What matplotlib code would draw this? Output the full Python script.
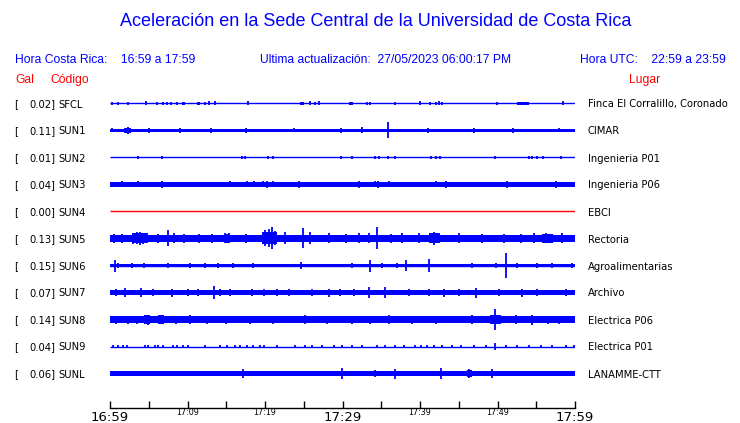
import matplotlib.pyplot as plt
import matplotlib.transforms as mtransforms

# stations, top to bottom
stations = ['SFCL', 'SUN1', 'SUN2', 'SUN3', 'SUN4', 'SUN5', 'SUN6', 'SUN7', 'SUN8', 'SUN9', 'SUNL']
gal = [0.02, 0.11, 0.01, 0.04, 0.00, 0.13, 0.15, 0.07, 0.14, 0.04, 0.06]
places = ['Finca El Corralillo, Coronado', 'CIMAR', 'Ingenieria P01', 'Ingenieria P06', 'EBCI',
          'Rectoria', 'Agroalimentarias', 'Archivo', 'Electrica P06', 'Electrica P01', 'LANAMME-CTT']
trace_colors = ['blue'] * 4 + ['red'] + ['blue'] * 6

# background noise level of each trace (same units as spikes)
noise = [0.5, 1.7, 0.5, 2.1, 0.5, 3.8, 1.9, 2.5, 3.2, 0.5, 2.0]

# (minute, half amplitude) of the visible bursts, minutes after 16:59
spikes_sfcl = [(0.30, 1.5), (1.08, 1.5), (2.28, 1.5), (4.60, 2), (6.02, 1.5), (6.88, 1.5), (7.31, 1.5),
               (7.83, 1.5), (8.60, 1.5), (12.26, 1.5), (12.77, 2), (13.55, 2), (17.85, 2), (25.76, 2),
               (26.41, 1.5), (27.01, 2), (33.16, 1.5), (33.59, 1.5), (36.81, 1.5), (40.04, 2),
               (41.25, 1.5), (42.02, 1.5), (42.45, 2), (42.88, 1.5), (49.98, 1.5), (58.45, 2)]
spikes_sun1 = [(0.22, 2), (1.29, 1.8), (1.94, 2.5), (2.28, 3.3), (2.58, 2.5), (5.0, 2.2), (9.0, 2.2),
               (13.0, 2.2), (17.5, 2.2), (23.70, 2), (29.81, 2.5), (32.52, 3), (35.87, 8),
               (41.0, 2.2), (47.0, 2.2), (52.0, 2.2), (57.93, 2)]
spikes_sun2 = [(3.66, 1.5), (6.67, 1.5), (16.99, 1.5), (17.42, 1.5), (20.34, 1.5), (20.99, 1.5),
               (29.81, 1.5), (31.23, 1.5), (34.24, 1.5), (34.67, 1.5), (35.87, 1.5), (36.82, 1.5),
               (41.38, 1.5), (42.02, 1.5), (42.54, 1.5), (49.63, 1.5), (54.06, 1.5), (54.41, 1.5),
               (55.14, 1.5), (55.91, 1.5), (58.15, 1.5)]
spikes_sun3 = [(1.51, 3), (3.66, 3), (6.75, 3.3), (15.48, 3), (17.63, 3), (18.62, 3), (19.78, 3),
               (20.26, 3.3), (20.99, 3), (24.34, 3.5), (32.09, 3.3), (34.24, 3), (34.54, 3.3),
               (35.96, 3), (42.02, 3), (43.31, 3.3), (51.27, 3.3), (57.59, 3.3)]
spikes_sun4 = []
spikes_sun5 = [(0.5, 4.5), (1.6, 4.5), (3.01, 5.5), (3.44, 6), (3.87, 6.5), (4.30, 5.5), (4.73, 5),
               (6.2, 4.5), (7.53, 8), (8.2, 5), (9.5, 4.5), (11.5, 4.5), (13.2, 4.5), (14.84, 5),
               (15.35, 5), (17.5, 4.5), (20.04, 8), (20.47, 9), (20.90, 11), (21.33, 7), (22.62, 6),
               (24.86, 10), (25.85, 6), (28.22, 5), (30.5, 4.5), (32.09, 5), (33.38, 5),
               (34.45, 11), (36.2, 4.5), (37.68, 5), (39.83, 5), (41.81, 6.3), (42.5, 5),
               (45.03, 5), (48.04, 4.5), (50.84, 4.5), (53.0, 4.5), (54.71, 5), (56.22, 5),
               (57.0, 4.5), (58.36, 5)]
spikes_sun6 = [(0.65, 6), (0.99, 3), (2.80, 2.5), (4.43, 2.5), (7.44, 3), (10.32, 2.5), (12.26, 2.5),
               (13.98, 2.5), (15.91, 2.5), (18.49, 3), (24.69, 3.3), (31.23, 2.5), (33.59, 6),
               (35.10, 2.5), (37.03, 2.5), (38.19, 5.7), (41.16, 6.7), (46.75, 2.5), (49.76, 3),
               (51.05, 12.3), (52.56, 3), (55.14, 2.5), (57.07, 3), (59.65, 2)]
spikes_sun7 = [(0.8, 3.5), (1.94, 4.3), (4.0, 4.3), (5.5, 3.5), (7.96, 4), (10.11, 3.5), (11.40, 3.5),
               (13.46, 6.3), (14.19, 3.5), (15.48, 3.5), (18.28, 3.5), (19.83, 3.5), (21.5, 3.5),
               (23.05, 3.5), (26.06, 3.5), (28.22, 4), (29.72, 3.5), (31.5, 3.5), (33.38, 5.3),
               (35.44, 5.8), (38.54, 3.5), (41.16, 3.5), (43.10, 4), (45.03, 3.5), (47.18, 5),
               (50.19, 3.5), (53.20, 4), (55.14, 3.5), (58.79, 3.5)]
spikes_sun8 = [(0.8, 4), (2.37, 4), (3.5, 4), (4.86, 5), (6.67, 4.5), (8.5, 4), (10.32, 4.5),
               (12.5, 4), (15.0, 4), (18.0, 4), (21.0, 4), (25.20, 4.5), (28.0, 4),
               (31.23, 4), (33.5, 4), (35.96, 4.5), (39.0, 4), (42.0, 4), (46.75, 4.5),
               (49.63, 10.7), (52.34, 4.5), (54.49, 5), (56.5, 4), (57.93, 4)]
spikes_sun9 = [(0.43, 1.5), (1.08, 1.5), (1.72, 1.5), (2.15, 1.5), (4.52, 1.5), (4.95, 1.5), (5.81, 1.5),
               (6.24, 1.5), (6.88, 1.5), (8.17, 1.5), (8.60, 1.5), (9.46, 1.5), (10.11, 1.5),
               (12.26, 1.5), (14.19, 1.5), (15.05, 1.5), (16.13, 1.5), (16.77, 1.5), (17.63, 1.5),
               (18.49, 1.5), (19.35, 1.5), (19.83, 1.5), (21.55, 1.5), (23.91, 1.5), (25.20, 1.5),
               (26.06, 1.5), (27.35, 1.5), (28.86, 1.5), (29.93, 1.5), (31.23, 1.5), (32.52, 1.5),
               (34.45, 1.5), (35.53, 1.5), (36.82, 1.5), (37.89, 1.5), (39.40, 1.5), (40.09, 1.5),
               (40.95, 1.5), (41.81, 1.5), (42.88, 1.5), (44.17, 1.5), (45.25, 1.5), (46.97, 1.5),
               (48.47, 1.5), (49.63, 3.2), (51.05, 1.5), (52.56, 1.5), (54.06, 1.5), (55.57, 1.5),
               (57.07, 1.5), (58.80, 1.5), (59.87, 1.5)]
spikes_sunl = [(1.08, 2.5), (1.94, 3), (4.86, 2.5), (6.58, 2.5), (7.96, 3), (8.90, 3), (10.97, 2.5),
               (12.04, 2.5), (17.20, 4.5), (18.28, 2.5), (19.48, 2.5), (20.47, 2.5), (23.27, 2.5),
               (25.63, 2.5), (28.0, 2.5), (29.93, 5.3), (32.09, 3), (34.24, 3.5), (36.82, 5),
               (38.32, 3), (41.59, 2.5), (42.67, 5.3), (43.74, 3), (46.32, 4.7), (49.33, 4),
               (52.34, 3), (54.49, 3), (56.13, 3), (57.50, 2.5), (59.87, 2.5)]
all_spikes = [spikes_sfcl, spikes_sun1, spikes_sun2, spikes_sun3, spikes_sun4, spikes_sun5,
              spikes_sun6, spikes_sun7, spikes_sun8, spikes_sun9, spikes_sunl]

# wider bursts: (station index, start minute, end minute, half amplitude)
bursts = [(0, 9.25, 9.68, 1.8), (0, 11.18, 11.61, 1.8), (0, 24.56, 24.99, 1.8), (0, 30.8, 31.3, 1.8),
          (0, 52.56, 54.06, 1.8), (1, 1.9, 2.7, 2.5), (5, 2.9, 4.8, 5), (5, 19.6, 21.5, 6),
          (5, 41.2, 42.5, 5), (5, 55.8, 57.1, 4.5), (5, 14.8, 15.5, 4.5), (8, 4.4, 5.2, 4.3),
          (8, 6.2, 7.0, 4.3), (8, 49.0, 50.5, 4.5), (10, 46.0, 46.7, 3.5)]

tick_minutes = list(range(0, 61, 5))
tick_labels = ['16:59', '', '17:09', '', '17:19', '', '17:29', '', '17:39', '', '17:49', '', '17:59']
big_labels = ['16:59', '17:29', '17:59']

row_px = 27.0  # amplitude units per row spacing
W, H = 740, 423

fig = plt.figure(figsize=(W / 100, H / 100), dpi=100)
ax = fig.add_axes([110 / W, (H - 408) / H, 465 / W, 318 / H])

for i, st in enumerate(stations):
    c = trace_colors[i]
    h = noise[i] / row_px
    ax.plot([0, 60], [i, i], color=c, lw=1.0, solid_capstyle='butt')
    if noise[i] > 0.6:
        ax.fill_between([0, 60], i - h, i + h, color=c, lw=0)
    sp = all_spikes[i]
    if sp:
        t = [s[0] for s in sp]
        a = [s[1] / row_px for s in sp]
        ax.vlines(t, [i - v for v in a], [i + v for v in a], color=c, lw=1.3)

for idx, t0, t1, amp in bursts:
    ax.fill_between([t0, t1], idx - amp / row_px, idx + amp / row_px, color=trace_colors[idx], lw=0)

ax.set_xlim(0, 60)
ax.set_ylim((408 - 103.5) / row_px, -(103.5 - 90) / row_px)
for s in ['top', 'left', 'right']:
    ax.spines[s].set_visible(False)
ax.spines['bottom'].set_linewidth(1.0)
ax.set_yticks([])
ax.set_xticks(tick_minutes)
ax.set_xticklabels(tick_labels)
ax.tick_params(axis='x', direction='in', length=5, width=1, pad=2)
for lab in ax.get_xticklabels():
    if lab.get_text() in big_labels:
        lab.set_fontsize(9.5)
    else:
        lab.set_fontsize(5.8)
        lab.set_y(0.01)

# row labels
tr = mtransforms.blended_transform_factory(fig.transFigure, ax.transData)
lab_font = dict(fontsize=7.2, family='DejaVu Sans', va='center_baseline', color='black')
for i, st in enumerate(stations):
    ax.text(14 / W, i, '[', transform=tr, ha='left', **lab_font)
    ax.text(55 / W, i, f'{gal[i]:.2f}]', transform=tr, ha='right', **lab_font)
    ax.text(58 / W, i, st, transform=tr, ha='left', **lab_font)
    ax.text(588 / W, i, places[i], transform=tr, ha='left', **lab_font)

# header
hf = 'Liberation Sans'
fig.text(376 / W, 1 - 22 / H, 'Aceleración en la Sede Central de la Universidad de Costa Rica',
         ha='center', va='center', color='blue', fontsize=13, family=hf)
fig.text(15 / W, 1 - 60 / H, 'Hora Costa Rica:    16:59 a 17:59', ha='left', va='center',
         color='blue', fontsize=8.7, family=hf)
fig.text(260 / W, 1 - 60 / H, 'Ultima actualización:  27/05/2023 06:00:17 PM', ha='left', va='center',
         color='blue', fontsize=8.7, family=hf)
fig.text(580 / W, 1 - 60 / H, 'Hora UTC:    22:59 a 23:59', ha='left', va='center',
         color='blue', fontsize=8.7, family=hf)
fig.text(15 / W, 1 - 80 / H, 'Gal', ha='left', va='center', color='red', fontsize=8.7, family=hf)
fig.text(50 / W, 1 - 80 / H, 'Código', ha='left', va='center', color='red', fontsize=8.7, family=hf)
fig.text(645 / W, 1 - 80 / H, 'Lugar', ha='center', va='center', color='red', fontsize=8.7, family=hf)

fig.savefig('out.png', dpi=100)
